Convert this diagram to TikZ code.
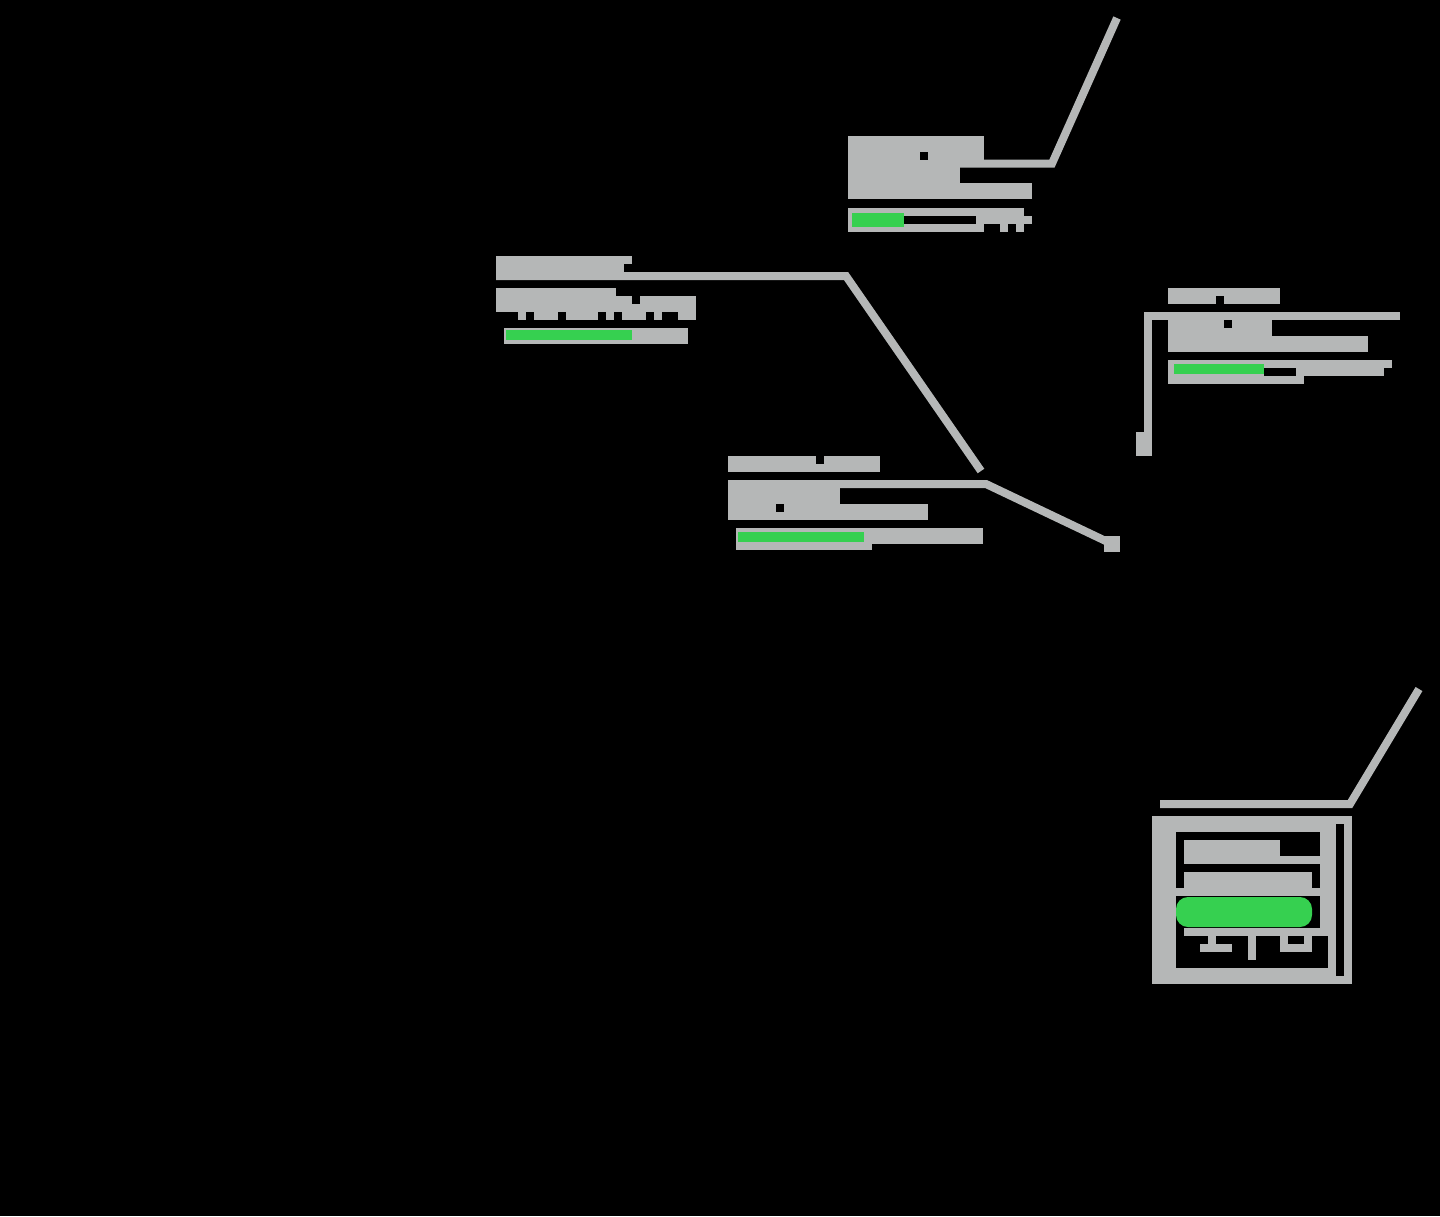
\documentclass[tikz,border=0pt]{standalone}
\definecolor{lg}{RGB}{181,183,183}
\definecolor{gn}{RGB}{54,208,80}
\begin{document}
\begin{tikzpicture}[x=1pt,y=-1pt,
  conn/.style={draw=lg, line width=8pt, line join=miter},
  blk/.style={fill=lg},
  hole/.style={fill=black},
  grn/.style={fill=gn}]
\useasboundingbox (0,0) rectangle (1440,1216);
\fill[black] (0,0) rectangle (1440,1216);

% ---------- connector end points ----------
\coordinate (a0) at (848,163.5);
\coordinate (a1) at (1052,163.5);
\coordinate (a2) at (1117,18);
\coordinate (b0) at (496,276);
\coordinate (b1) at (846,276);
\coordinate (b2) at (981,471);
\coordinate (c0) at (728,484);
\coordinate (c1) at (986,484);
\coordinate (c2) at (1112,544);
\coordinate (d0) at (1400,316);
\coordinate (d1) at (1148,316);
\coordinate (d2) at (1148,456);
\coordinate (e0) at (1160,804);
\coordinate (e1) at (1350,804);
\coordinate (e2) at (1419,689);

% ---------- connectors ----------
\draw[conn] (a0) -- (a1) -- (a2);
\draw[conn] (b0) -- (b1) -- (b2);
\draw[conn] (c0) -- (c1) -- (c2);
\fill[blk] (1104,536) rectangle (1120,552);
\draw[conn] (d0) -- (d1) -- (d2);
\fill[blk] (1136,432) rectangle (1152,456);
\draw[conn] (e0) -- (e1) -- (e2);

% ---------- label A ----------
\fill[blk] (848,136) rectangle (984,160);
\fill[hole] (920,152) rectangle (928,160);
\fill[blk] (848,167) rectangle (960,183);
\fill[blk] (848,183) rectangle (1032,199);
\fill[blk] (848,208) rectangle (1024,216);
\fill[blk] (848,216) rectangle (1032,224);
\fill[blk] (848,224) rectangle (984,232);
\fill[blk] (1000,224) rectangle (1008,232);
\fill[blk] (1016,224) rectangle (1024,232);
\fill[hole] (904,216) rectangle (976,224);
\fill[grn] (852,213) rectangle (904,227);

% ---------- label B ----------
\fill[blk] (496,256) rectangle (624,272);
\fill[blk] (624,256) rectangle (632,264);
\fill[blk] (496,288) rectangle (616,296);
\fill[blk] (496,296) rectangle (632,304);
\fill[blk] (640,296) rectangle (696,304);
\fill[blk] (496,304) rectangle (696,312);
\fill[blk] (518,312) rectangle (526,320);
\fill[blk] (534,312) rectangle (558,320);
\fill[blk] (566,312) rectangle (598,320);
\fill[blk] (606,312) rectangle (614,320);
\fill[blk] (622,312) rectangle (646,320);
\fill[blk] (654,312) rectangle (662,320);
\fill[blk] (678,312) rectangle (696,320);
\fill[blk] (504,328) rectangle (688,344);
\fill[grn] (506,330) rectangle (632,340);

% ---------- label C ----------
\fill[blk] (728,456) rectangle (880,472);
\fill[hole] (816,456) rectangle (824,464);
\fill[blk] (728,488) rectangle (840,504);
\fill[blk] (728,504) rectangle (928,520);
\fill[hole] (776,504) rectangle (784,512);
\fill[blk] (736,528) rectangle (872,550);
\fill[blk] (872,528) rectangle (983,544);
\fill[grn] (738,532) rectangle (864,542);

% ---------- label D ----------
\fill[blk] (1168,288) rectangle (1280,304);
\fill[hole] (1216,296) rectangle (1224,304);
\fill[blk] (1168,320) rectangle (1272,336);
\fill[hole] (1224,320) rectangle (1232,328);
\fill[blk] (1168,336) rectangle (1368,352);
\fill[blk] (1168,360) rectangle (1392,368);
\fill[blk] (1168,368) rectangle (1264,376);
\fill[blk] (1296,368) rectangle (1384,376);
\fill[blk] (1168,376) rectangle (1304,384);
\fill[grn] (1174,364) rectangle (1264,374);

% ---------- panel E ----------
\fill[blk] (1152,816) rectangle (1352,984);
\fill[hole] (1336,824) rectangle (1344,976);
\fill[hole] (1176,832) rectangle (1320,968);
\fill[hole] (1176,936) rectangle (1328,968);
\fill[blk] (1184,840) rectangle (1280,856);
\fill[blk] (1184,856) rectangle (1320,864);
\fill[blk] (1184,872) rectangle (1312,888);
\fill[blk] (1176,888) rectangle (1320,896);
\fill[grn, rounded corners=12pt] (1176,897) rectangle (1312,927);
\fill[blk] (1184,928) rectangle (1328,936);
\fill[blk] (1208,936) rectangle (1216,944);
\fill[blk] (1200,944) rectangle (1232,952);
\fill[blk] (1248,936) rectangle (1256,960);
\fill[blk] (1280,936) rectangle (1312,952);
\fill[hole] (1288,936) rectangle (1304,944);
\end{tikzpicture}
\end{document}
